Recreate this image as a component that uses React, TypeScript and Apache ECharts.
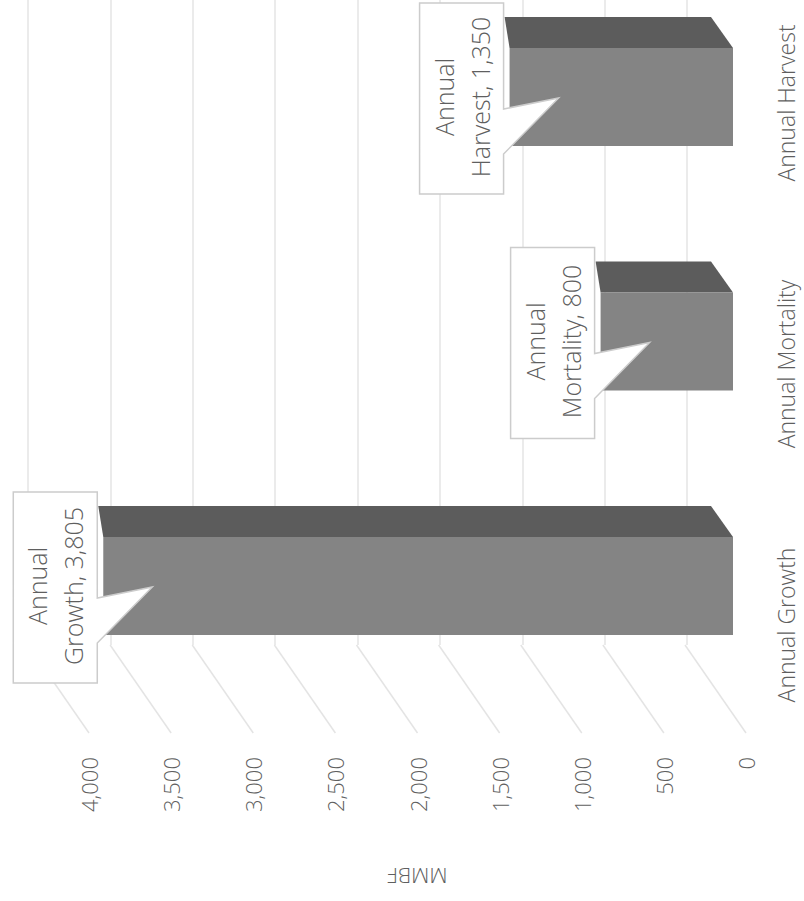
import React, { useEffect, useRef } from 'react';
import * as echarts from 'echarts';

const categories = ['Annual Growth', 'Annual Mortality', 'Annual Harvest'];
const values = [3805, 800, 1350];
const tickValues = [0, 500, 1000, 1500, 2000, 2500, 3000, 3500, 4000];
const axisName = 'MMBF';

const FONT = '"Open Sans", "Liberation Sans", sans-serif';
const GRID_COLOR = '#e4e4e4';
const TEXT_COLOR = '#5f5f5f';

function fmt(v: number) {
  return Number(v).toLocaleString('en-US');
}

export default function App() {
  const ref = useRef<HTMLDivElement>(null);
  useEffect(() => {
    const chart = echarts.init(ref.current!, null, { renderer: 'svg' });
    const option: any = {
      animation: false,
      backgroundColor: '#ffffff',
      grid: [
        { left: 28, right: 117, top: 0, bottom: 256 },
        { left: 71, right: 71, top: 97, bottom: 315 },
        { left: 89, right: 58, top: 645, bottom: 168 },
        { left: 0, right: 34, top: 103, bottom: 276 },
      ],
      xAxis: [
        {
          gridIndex: 0, type: 'value', inverse: true, min: 0, max: 4000, interval: 500,
          axisLine: { show: false }, axisTick: { show: false }, axisLabel: { show: false },
          splitLine: { show: true, lineStyle: { color: GRID_COLOR, width: 1.5 } },
        },
        { gridIndex: 1, type: 'value', inverse: true, min: 0, max: 4000, show: false },
        {
          gridIndex: 2, type: 'value', inverse: true, min: 0, max: 4000, interval: 500,
          axisLine: { show: false }, axisTick: { show: false }, splitLine: { show: false },
          axisLabel: {
            rotate: 90, margin: 24, fontSize: 22, fontWeight: 300, color: TEXT_COLOR, fontFamily: FONT,
            formatter: (v: number) => fmt(v),
          },
          name: axisName, nameLocation: 'middle', nameGap: 132, nameRotate: 180,
          nameTextStyle: { fontSize: 21, fontWeight: 300, color: TEXT_COLOR, fontFamily: FONT },
        },
        { gridIndex: 3, type: 'value', show: false },
      ],
      yAxis: [
        { gridIndex: 0, type: 'value', show: false },
        { gridIndex: 1, type: 'category', data: categories, boundaryGap: false, show: false },
        { gridIndex: 2, type: 'value', min: 0, max: 1, show: false },
        {
          gridIndex: 3, type: 'category', data: categories, boundaryGap: false, position: 'right',
          axisLine: { show: false }, axisTick: { show: false }, splitLine: { show: false },
          axisLabel: { rotate: 90, margin: 4, fontSize: 23, fontWeight: 300, color: TEXT_COLOR, fontFamily: FONT },
        },
      ],
      series: [
        {
          type: 'custom',
          xAxisIndex: 2,
          yAxisIndex: 2,
          silent: true,
          encode: { x: 0, y: 1 },
          data: tickValues.map((v) => [v, 0]),
          renderItem: (params: any, api: any) => {
            const v = api.value(0);
            const b = api.coord([v, 0]);
            const t = api.coord([v, 1]);
            return {
              type: 'line',
              shape: { x1: t[0] - 61, y1: t[1], x2: b[0], y2: b[1] },
              style: { stroke: GRID_COLOR, lineWidth: 1.5 },
            };
          },
        },
        {
          type: 'custom',
          xAxisIndex: 1,
          yAxisIndex: 1,
          encode: { x: 0, y: 1 },
          data: values.map((v, i) => [v, i]),
          renderItem: (params: any, api: any) => {
            const v = api.value(0);
            const i = api.value(1);
            const end = api.coord([v, i]);
            const base = api.coord([0, i]);
            const yc = end[1];
            const half = 49;
            const depth = 31;
            const xe = end[0];
            const xb = base[0];
            const top = {
              type: 'polygon',
              shape: { points: [[xe, yc - half], [xb, yc - half], [xb - 22, yc - half - depth], [xe - 5, yc - half - depth]] },
              style: { fill: '#5c5c5c' },
            };
            const front = {
              type: 'rect',
              shape: { x: xe, y: yc - half, width: xb - xe, height: half * 2 },
              style: { fill: '#848484' },
            };
            const bx = xe - 6;
            const bw = 84;
            const callout = {
              type: 'polygon',
              shape: {
                points: [
                  [bx - bw, yc - 94], [bx, yc - 94], [bx, yc + 12], [xe + 49, yc + 1],
                  [bx, yc + 57], [bx, yc + 97], [bx - bw, yc + 97],
                ],
              },
              style: { fill: '#ffffff', stroke: '#cccccc', lineWidth: 1.5 },
            };
            const name = categories[i];
            const sp = name.indexOf(' ');
            const text = name.slice(0, sp) + '\n' + name.slice(sp + 1) + ', ' + fmt(v);
            const label = {
              type: 'text',
              x: bx - bw / 2,
              y: yc,
              rotation: Math.PI / 2,
              style: {
                text, align: 'center', verticalAlign: 'middle', fontSize: 25, fontWeight: 300, lineHeight: 36,
                fill: TEXT_COLOR, fontFamily: FONT,
              },
            };
            return { type: 'group', children: [top, front, callout, label] };
          },
        },
      ],
    };
    chart.setOption(option);
    return () => chart.dispose();
  }, []);
  return (
    <div
      ref={ref}
      style={{ position: 'absolute', left: 0, top: 0, width: 804, height: 901 }}
    />
  );
}
